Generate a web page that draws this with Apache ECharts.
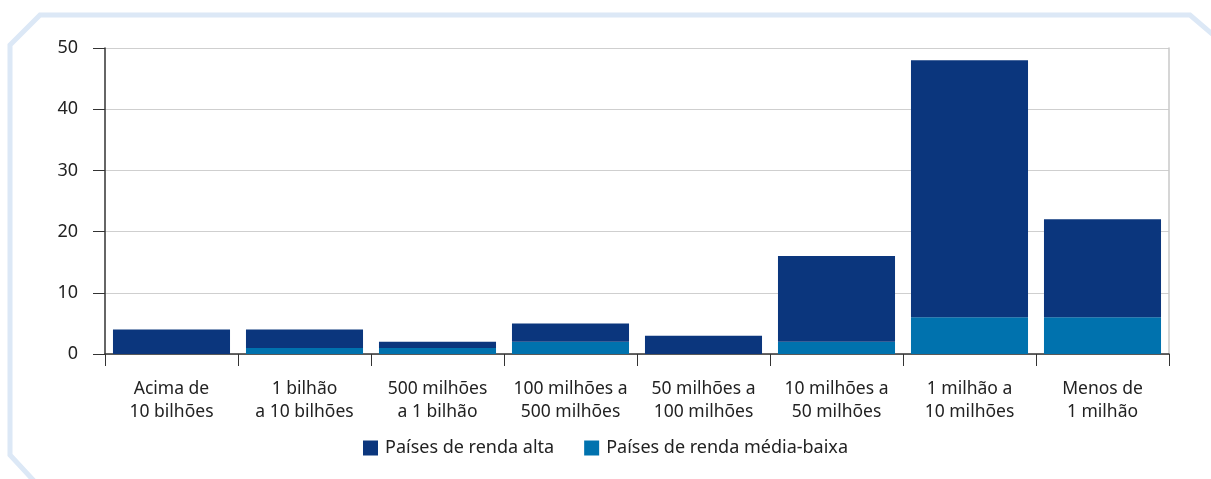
<!DOCTYPE html>
<html>
<head>
<meta charset="utf-8">
<script src="https://cdn.jsdelivr.net/npm/echarts@6/dist/echarts.min.js"></script>
<style>
  html, body { margin: 0; padding: 0; background: #fff; }
  #chartBox { width: 1211px; height: 479px; }
</style>
</head>
<body>
<div id="chartBox"></div>
<script>
// faixas de PIB (categorias)
var categorias = [
  'Acima de\n10 bilhões',
  '1 bilhão\na 10 bilhões',
  '500 milhões\na 1 bilhão',
  '100 milhões a\n500 milhões',
  '50 milhões a\n100 milhões',
  '10 milhões a\n50 milhões',
  '1 milhão a\n10 milhões',
  'Menos de\n1 milhão'
];
var rendaMediaBaixa = [0, 1, 1, 2, 0, 2, 6, 6];   // parte de baixo
var rendaAlta = [4, 3, 1, 3, 3, 14, 42, 16];      // parte de cima
var yTicks = [0, 10, 20, 30, 40, 50];

var chart = echarts.init(document.getElementById('chartBox'));
var fonte = '"Noto Sans", "Open Sans", sans-serif';

var option = {
  animation: false,
  textStyle: { fontFamily: fonte },
  // moldura azul clara com cantos cortados
  graphic: [{
    type: 'polyline',
    silent: true,
    shape: {
      points: [[35, 482], [10, 455], [10, 45], [40, 15], [1190, 15], [1225, 45]]
    },
    style: { stroke: '#dce8f6', lineWidth: 5, fill: null }
  }],
  grid: { left: 105, right: 42, top: 48, bottom: 125 },
  legend: {
    bottom: 17,
    left: 'center',
    itemWidth: 15,
    itemHeight: 15,
    itemGap: 30,
    icon: 'rect',
    textStyle: { fontSize: 18, color: '#222', fontFamily: fonte, padding: [0, 0, 0, 2] },
    data: ['Países de renda alta', 'Países de renda média-baixa']
  },
  xAxis: {
    type: 'category',
    data: categorias,
    axisLine: { lineStyle: { color: '#333', width: 1.5 } },
    axisTick: { show: true, length: 12, lineStyle: { color: '#333' } },
    axisLabel: {
      interval: 0, fontSize: 17.5, color: '#222', margin: 24, lineHeight: 23,
      fontFamily: fonte
    }
  },
  yAxis: [{
    type: 'value',
    min: yTicks[0],
    max: yTicks[yTicks.length - 1],
    interval: 10,
    axisLine: { show: true, lineStyle: { color: '#333', width: 1.5 } },
    axisTick: { show: true, length: 12, lineStyle: { color: '#333' } },
    axisLabel: { fontSize: 18, color: '#222', margin: 27, fontFamily: fonte },
    splitLine: { lineStyle: { color: '#cfcfcf', width: 1 } }
  }, {
    type: 'value',
    position: 'right',
    min: yTicks[0],
    max: yTicks[yTicks.length - 1],
    interval: 10,
    axisLine: { show: true, lineStyle: { color: '#c8c8c8', width: 1.5 } },
    axisTick: { show: false },
    axisLabel: { show: false },
    splitLine: { show: false }
  }],
  series: [{
    name: 'Países de renda média-baixa',
    type: 'bar',
    stack: 'total',
    data: rendaMediaBaixa,
    barCategoryGap: '12%',
    itemStyle: { color: '#0072ae' }
  }, {
    name: 'Países de renda alta',
    type: 'bar',
    stack: 'total',
    data: rendaAlta,
    barCategoryGap: '12%',
    itemStyle: { color: '#0b367d' }
  }]
};

chart.setOption(option);
</script>
</body>
</html>
